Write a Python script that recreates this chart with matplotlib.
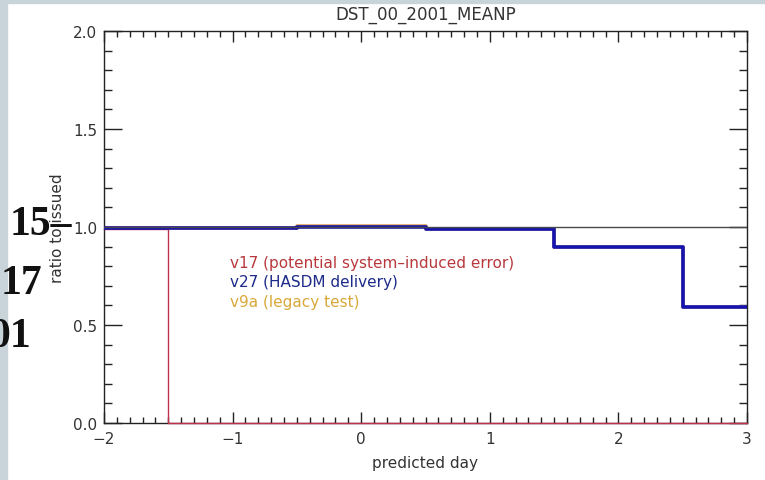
import numpy as np
import matplotlib.pyplot as plt
from matplotlib.patches import Rectangle
from matplotlib.ticker import MultipleLocator

# forecast day and ratio of each version to the issued value
days = [-2, -1, 0, 1, 2, 3]
v17 = [0.99, 0.0, 0.0, 0.0, 0.0, 0.0]
v27 = [0.993, 0.993, 0.998, 0.99, 0.898, 0.593]
v9a = [0.993, 0.993, 1.005, 0.99, 0.898, 0.593]
labels = ["v17 (potential system\u2013induced error)",
          "v27 (HASDM delivery)",
          "v9a (legacy test)"]
label_colors = ["#b8383c", "#1c2a8a", "#d8a838"]
side_text = ["15\u2013", "17", "01"]

fig = plt.figure(figsize=(7.65, 4.81), dpi=100)
fig.patch.set_facecolor("white")
# page frame
fig.add_artist(Rectangle((0, 0), 7 / 765, 1, transform=fig.transFigure,
                         color="#c9d3da", zorder=0))
fig.add_artist(Rectangle((0, 1 - 4 / 481), 1, 4 / 481, transform=fig.transFigure,
                         color="#c9d3da", zorder=0))

ax = fig.add_axes([104 / 765, 57 / 481, 643 / 765, 392 / 481])
ax.step(days, v9a, where="mid", color="#e0a050", lw=2.6, zorder=2)
ax.step(days, v17, where="mid", color="#c0304a", lw=1.0, zorder=2.6, clip_on=False)
ax.step(days, v27, where="mid", color="#1414b0", lw=2.6, zorder=3)
ax.axhline(1.0, color="#4a4a4a", lw=1.0, zorder=5)

ax.set_xlim(-2, 3)
ax.set_ylim(0, 2)
ax.xaxis.set_major_locator(MultipleLocator(1))
ax.xaxis.set_minor_locator(MultipleLocator(0.1))
ax.yaxis.set_major_locator(MultipleLocator(0.5))
ax.yaxis.set_minor_locator(MultipleLocator(0.1))
ax.tick_params(which="both", direction="in", top=True, right=True,
               colors="#222222", labelcolor="#333333", labelsize=11, width=1.0)
ax.tick_params(axis="x", which="major", length=8, pad=6)
ax.tick_params(axis="x", which="minor", length=4)
ax.tick_params(axis="y", which="major", length=13, pad=5)
ax.tick_params(axis="y", which="minor", length=6)
ax.yaxis.set_major_formatter(plt.FormatStrFormatter("%.1f"))
ax.xaxis.set_major_formatter(plt.FuncFormatter(lambda v, p: f"{v:.0f}".replace("-", "\u2212")))
for s in ax.spines.values():
    s.set_color("#222222")
    s.set_linewidth(1.0)

title = ax.set_title("DST_00_2001_MEANP", fontsize=12, color="#333333", pad=9)
title.set_zorder(10)
ax.set_xlabel("predicted day", fontsize=11, color="#333333", labelpad=6)
ax.set_ylabel("ratio to issued", fontsize=11, color="#333333", labelpad=6)

for i, (t, c) in enumerate(zip(labels, label_colors)):
    ax.text(-1.02, 0.82 - 0.1 * i, t, color=c, fontsize=11, va="center", ha="left")

for t, (x, y) in zip(side_text, [(10, 225), (1, 284), (-11, 337)]):
    fig.text(x / 765, 1 - y / 481, t, fontsize=30, fontweight="bold",
             family="Liberation Serif", color="#111111", va="center", ha="left")

fig.savefig("out.png", dpi=100, facecolor="white")
